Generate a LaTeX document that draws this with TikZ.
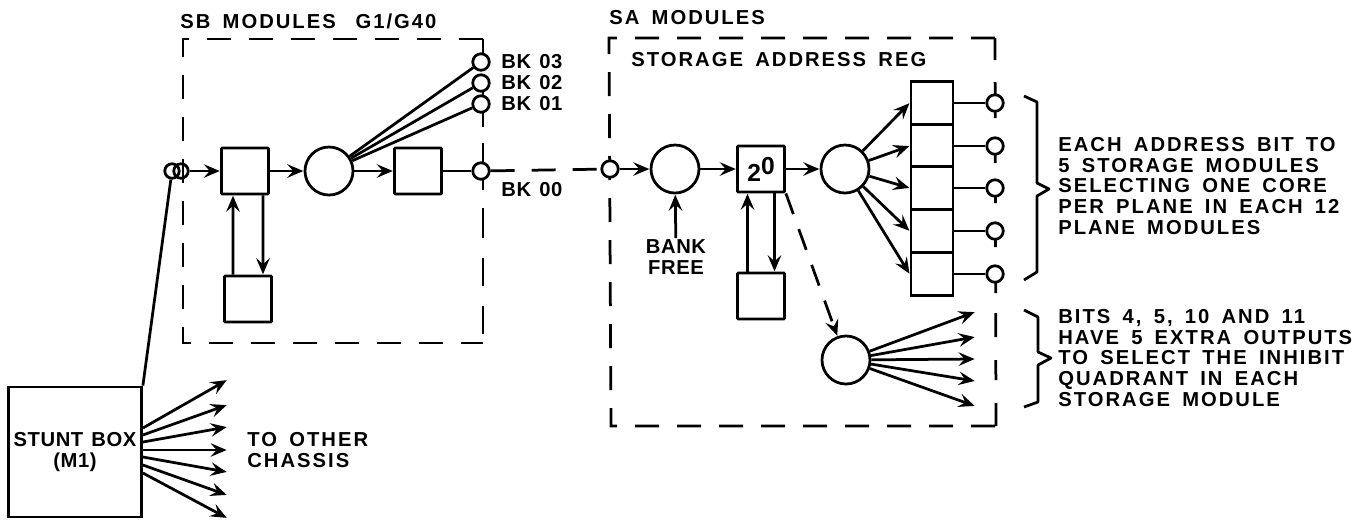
\documentclass[tikz,border=0pt]{standalone}
\usepackage{fontspec}
\setmainfont[LetterSpace=10,WordSpace=1.6]{Liberation Sans}
\newfontfamily\tightfont[LetterSpace=3,WordSpace=1.3]{Liberation Sans}
\usetikzlibrary{arrows.meta}
\begin{document}
\begin{tikzpicture}[
  x=0.2mm, y=-0.2mm,
  font=\fontsize{11.5}{11.9}\selectfont\bfseries,
  line width=0.55mm,
  reg/.style  = {draw, fill=white, rounded corners=0.5pt, minimum width=9.4mm,
                 minimum height=9.2mm, inner sep=0pt},
  gate/.style = {draw, fill=white, circle, minimum size=9.6mm, inner sep=0pt},
  pin/.style  = {draw, fill=white, circle, minimum size=3.3mm, inner sep=0pt},
  cell/.style = {draw, fill=white, minimum width=8.4mm, minimum height=8.6mm, inner sep=0pt},
  lbl/.style  = {align=left, anchor=west, inner sep=0pt},
  tight/.style = {font=\fontsize{11.5}{11.9}\selectfont\tightfont\bfseries},
  ar/.style   = {-{Stealth[length=3.2mm, width=2.7mm, inset=1.2mm]}, shorten >=0.2pt},
  dashln/.style = {dash pattern=on 4.8mm off 3.6mm},
]
\useasboundingbox (0,0) rectangle (1368,521);

% module frames come first, the pins sit on top of them
\coordinate (sbnw) at (183,39);  \coordinate (sbne) at (483,39);
\coordinate (sbsw) at (183,343); \coordinate (sbse) at (483,343);
\coordinate (sanw) at (609,38);  \coordinate (sane) at (995,38);
\coordinate (sasw) at (611,426); \coordinate (sase) at (996,426);
\draw[dashln] (sbne) -- (sbnw) -- (sbsw) -- (sbse);
\draw[dash pattern=on 4.4mm off 4.4mm on 7.2mm off 4mm on 5mm off 3.8mm on 4.2mm off 4mm
      on 4.8mm off 4mm on 5.2mm off 4mm on 4.8mm off 4.6mm on 4mm off 4.6mm on 4.8mm off 9mm]
  (sane) -- (sase);
\draw[dash pattern=on 4.4mm off 3.2mm on 10mm off 3.2mm on 9.4mm off 3.6mm on 6mm off 4mm
      on 5.6mm off 4mm on 5.6mm off 4mm on 4.6mm off 4mm]
  (sbne) -- (sbse);
\draw[dashln] (sane) -- (sanw) -- (sasw) -- (sase);

\node[lbl] (sbttl) at (179,21) {SB MODULES\hspace{1.5mm} G1/G40};
\node[lbl] (sattl) at (608,18) {SA MODULES};
\node[lbl] (sareg) at (630,60) {STORAGE ADDRESS REG};

% stunt box and its fan
\node[draw, fill=white, minimum width=26.6mm, minimum height=26mm, inner sep=0pt] (stunt) at (75,452) {};
\node[tight, align=center, inner sep=0pt] (stuntl) at (75,452) {STUNT BOX\\(M1)};
\foreach \i/\y/\s in {1/380/4.8, 2/405/3.4, 3/427/2, 4/450/0.4, 5/472/-1, 6/495/-2.6, 7/518/-4.2}{
  \coordinate (tg\i) at (227,\y);
  \draw[ar] ([yshift=\s mm]stunt.east) -- (tg\i);
}
\node[lbl] (otherl) at (246,450) {TO OTHER\\CHASSIS};

% SB modules
\node[pin, minimum size=2.9mm] (ina) at (172,171) {};
\node[pin, minimum size=2.9mm, fill=none] (inb) at (181,171) {};
\node[reg] (sb1) at (245,171) {};
\node[reg] (sb2) at (248,299) {};
\node[gate] (sbg) at (329,171) {};
\node[reg] (sb3) at (418,171) {};
\node[pin] (bk0) at (481,171) {};
\foreach \i/\y/\t in {3/62/03, 2/83/02, 1/104/01}{
  \node[pin] (bk\i) at (481,\y) {};
  \node[tight, lbl] (bkl\i) at (500,\y) {BK \t};
  \draw (sbg) -- (bk\i);
}
\node[tight, lbl] (bkl0) at (500,190) {BK 00};
\draw (stunt.north east) -- (ina);
\draw[ar] (inb) -- (sb1);
\draw[ar] (sb1) -- (sbg);
\draw[ar] (sbg) -- (sb3);
\draw (sb3) -- (bk0);
\draw[ar] ([xshift=-3mm]sb2.north) -- ([xshift=-2.4mm]sb1.south);
\draw[ar] ([xshift=3.6mm]sb1.south) -- ([xshift=3mm]sb2.north);

% SA modules
\node[pin] (sain) at (610,169) {};
\node[gate] (sag) at (675,169) {};
\node[reg, font=\fontsize{14}{14}\selectfont\bfseries] (sa1) at (761,169) {2\raisebox{1.4mm}{0}};
\node[reg] (sa2) at (761,296) {};
\node[gate] (sah) at (845,169) {};
\node[gate] (sal) at (846,360) {};
\draw[dash pattern=on 4.8mm off 3.4mm] (bk0) -- (sain);
\node[tight, align=center, inner sep=0pt] (bank) at (676,257) {BANK\\FREE};
\draw[ar] (bank) -- (sag);
\draw[ar] (sain) -- (sag);
\draw[ar] (sag) -- (sa1);
\draw[ar] (sa1) -- (sah);
\draw[ar] ([xshift=-2.7mm]sa2.north) -- ([xshift=-2.7mm]sa1.south);
\draw[ar] ([xshift=2.7mm]sa1.south) -- ([xshift=2.7mm]sa2.north);
\draw[ar, dash pattern=on 4.4mm off 3.2mm] (sa1.south east) -- (sal);
\foreach \i/\y in {1/103, 2/146, 3/188, 4/231, 5/274}{
  \node[cell] (st\i) at (932,\y) {};
  \node[pin] (ot\i) at (995,\y) {};
  \draw[ar] (sah) -- (st\i.west);
  \draw (st\i) -- (ot\i);
}
\foreach \i/\y in {1/312, 2/337, 3/359, 4/381, 5/406}{
  \coordinate (tl\i) at (975,\y);
  \draw[ar] (sal) -- (tl\i);
}

% braces and their notes
\draw[line join=round] (1024,96) -- (1037,102) -- (1037,183) -- (1049,189) -- (1037,196) -- (1037,272) -- (1024,280);
\draw[line join=round] (1024,310) -- (1038,317) -- (1038,352) -- (1051,358) -- (1038,365) -- (1038,402) -- (1024,407);
\node[lbl, align=left] (note1) at (1057,186) {EACH ADDRESS BIT TO\\5 STORAGE MODULES\\SELECTING ONE CORE\\PER PLANE IN EACH 12\\PLANE MODULES};
\node[lbl, align=left] (note2) at (1057,358) {BITS 4, 5, 10 AND 11\\HAVE 5 EXTRA OUTPUTS\\TO SELECT THE INHIBIT\\QUADRANT IN EACH\\STORAGE MODULE};
\end{tikzpicture}
\end{document}
